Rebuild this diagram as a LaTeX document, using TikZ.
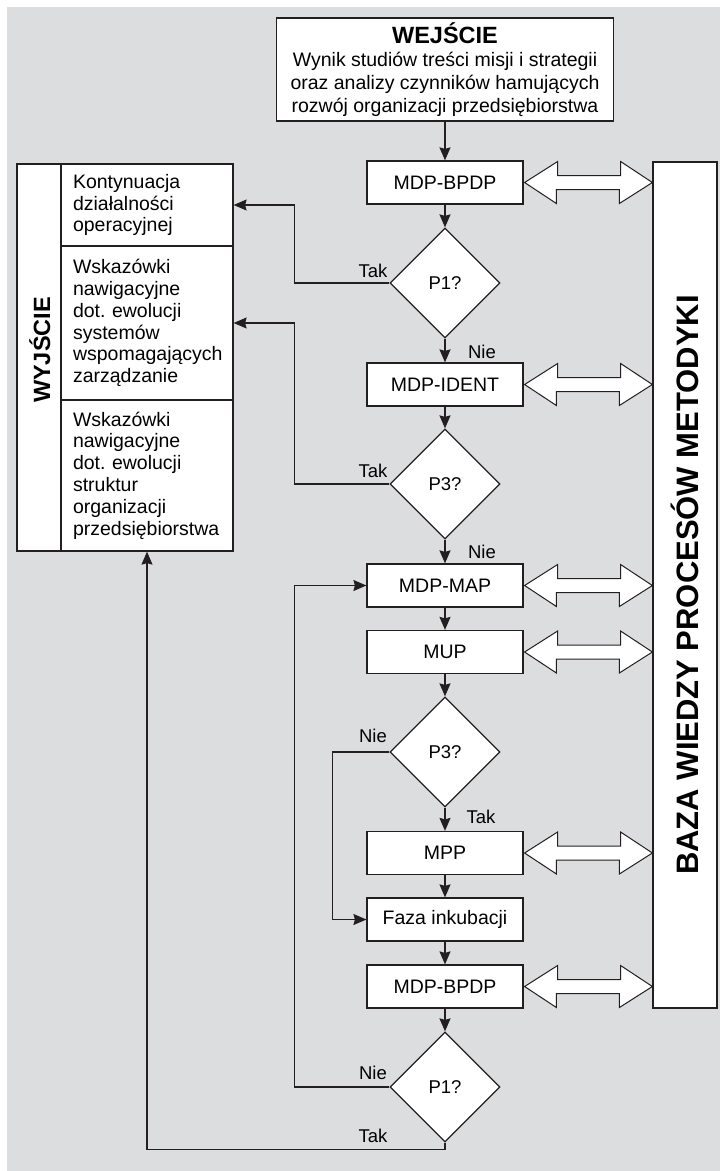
\documentclass[tikz,border=0pt]{standalone}
\usepackage{fontspec}
\setmainfont{Liberation Sans}
\usetikzlibrary{shapes.geometric,arrows.meta,calc}
\definecolor{bggray}{HTML}{DCDDDF}
\definecolor{ink}{HTML}{231F20}
\frenchspacing
\newcommand\biarrow[1]{%
  \draw[dbl] ($(#1.east)+(1,0)$) -- ++(33,-21) -- ++(0,14) -- ++(63,0) -- ++(0,-14)
    -- (#1.east -| baza.north) -- ++(-33,21) -- ++(0,-14) -- ++(-63,0) -- ++(0,14) -- cycle;}
\begin{document}
\begin{tikzpicture}[x=1pt,y=-1pt,
  box/.style={draw=ink,fill=white,line width=1.2pt,minimum width=156pt,minimum height=43pt,
    inner sep=0pt,font=\fontsize{19.5}{22}\selectfont},
  dec/.style={diamond,draw=ink,fill=white,line width=1.2pt,minimum width=110pt,minimum height=110pt,
    inner sep=0pt,font=\fontsize{18.5}{22}\selectfont},
  cell/.style={draw=ink,fill=white,line width=1.2pt,inner xsep=12pt,inner ysep=0pt,text width=148pt,
    align=left,font=\fontsize{19.5}{21.8}\selectfont},
  flow/.style={draw=ink,line width=1.6pt,-{Stealth[length=13pt,width=11pt,inset=1.5pt]}},
  back/.style={draw=ink,line width=1.2pt,-{Stealth[length=13pt,width=11pt,inset=1.5pt]}},
  lab/.style={font=\fontsize{18.5}{22}\selectfont,anchor=base,inner sep=0pt},
  dbl/.style={draw=ink,fill=white,line width=1pt,line join=miter}
]
\useasboundingbox (0,0) rectangle (720,1171);
\fill[bggray] (7,7) rectangle (720,1171);

% input box
\node[draw=ink,fill=white,line width=1.2pt,minimum width=337pt,minimum height=103pt,inner sep=0pt,
  align=center,font=\fontsize{19.5}{23}\selectfont] (wej) at (445,69.5)
  {{\fontsize{23.5}{26}\selectfont\bfseries WEJŚCIE}\\Wynik studiów treści misji i strategii\\
   oraz analizy czynników hamujących\\rozwój organizacji przedsiębiorstwa};

% knowledge base
\node[draw=ink,fill=white,line width=1.2pt,rotate=90,minimum width=846pt,minimum height=64pt,inner sep=0pt,
  text height=27pt,text depth=0pt,
  font=\fontsize{31}{34}\selectfont\bfseries] (baza) at (685,585) {BAZA WIEDZY PROCESÓW METODYKI};

% output block
\node[draw=ink,fill=white,line width=1.2pt,rotate=90,minimum width=387pt,minimum height=44pt,inner sep=0pt,
  text height=22pt,text depth=0pt,
  font=\fontsize{23.5}{26}\selectfont\bfseries] (wyj) at (39,357.5) {\hspace*{15pt}WYJŚCIE};
\node[cell,minimum height=82pt] (c1) at (147,205) {Kontynuacja\\działalności\\operacyjnej};
\node[cell,minimum height=154pt] (c2) at (147,323) {Wskazówki\\nawigacyjne\\dot. ewolucji\\systemów\\wspomagających\\zarządzanie};
\node[cell,minimum height=151pt] (c3) at (147,475.5) {Wskazówki\\nawigacyjne\\dot. ewolucji\\struktur\\organizacji\\przedsiębiorstwa};

% main column
\node[box] (b1) at (445,182.5) {MDP-BPDP};
\node[dec] (d1) at (445,283) {P1?};
\node[box] (ident) at (445,384.5) {MDP-IDENT};
\node[dec] (d2) at (445,484) {P3?};
\node[box] (map) at (445,585.5) {MDP-MAP};
\node[box] (mup) at (445,652) {MUP};
\node[dec] (d3) at (445,752) {P3?};
\node[box] (mpp) at (445,853) {MPP};
\node[box] (faza) at (445,919.5) {Faza inkubacji};
\node[box] (b2) at (445,986.5) {MDP-BPDP};
\node[dec] (d4) at (445,1087) {P1?};

% labels
\node[lab] (t1) at (373,277) {Tak};
\node[lab] (n1) at (482,358) {Nie};
\node[lab] (t2) at (373,477) {Tak};
\node[lab] (n2) at (482,558) {Nie};
\node[lab] (n3) at (373,742) {Nie};
\node[lab] (t3) at (481,823) {Tak};
\node[lab] (n4) at (373,1079) {Nie};
\node[lab] (t4) at (373,1142) {Tak};

% flow
\draw[flow] (wej) -- (b1);
\draw[flow] (b1) -- (d1);
\draw[flow] (d1) -- (ident);
\draw[flow] (ident) -- (d2);
\draw[flow] (d2) -- (map);
\draw[flow] (map) -- (mup);
\draw[flow] (mup) -- (d3);
\draw[flow] (d3) -- (mpp);
\draw[flow] (mpp) -- (faza);
\draw[flow] (faza) -- (b2);
\draw[flow] (b2) -- (d4);

% branches
\draw[back] (d1.west) -- ++(-95,0) |- (c1.east);
\draw[back] (d2.west) -- ++(-95,0) |- (c2.east);
\draw[back] (d3.west) -- ++(-57,0) |- (faza.west);
\draw[back] (d4.west) -- ++(-95,0) |- (map.west);
\draw[back] (d4.south) -- ++(0,7) -| (c3.south);

% double arrows
\biarrow{b1}
\biarrow{ident}
\biarrow{map}
\biarrow{mup}
\biarrow{mpp}
\biarrow{b2}
\end{tikzpicture}
\end{document}
